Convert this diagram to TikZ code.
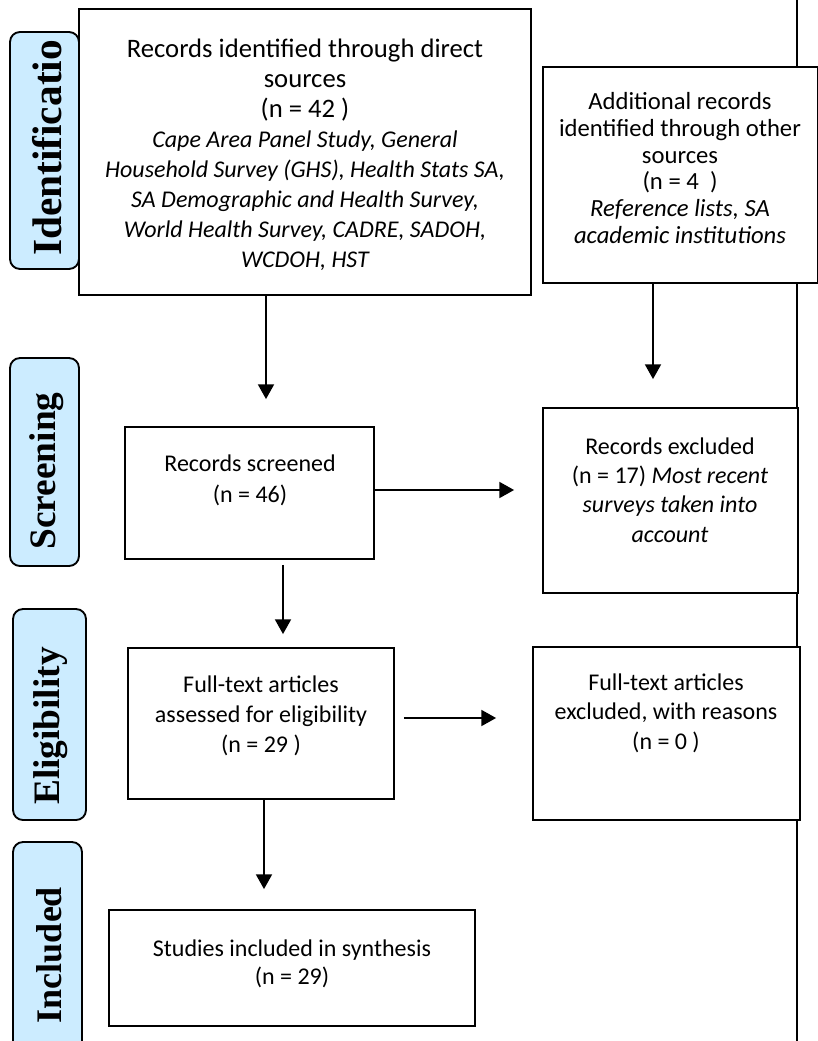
\documentclass[tikz,border=0pt]{standalone}
\usepackage{fontspec}
\setmainfont{Carlito}
\newfontfamily\labfont{Liberation Serif}
\usetikzlibrary{arrows.meta,fit}
\definecolor{labblue}{RGB}{204,236,255}
\newcommand\smit[1]{{\fontsize{18}{22.5}\selectfont\itshape #1}}
\begin{document}
\begin{tikzpicture}[x=0.75pt,y=-0.75pt,
  box/.style={draw, line width=1.4pt, fill=white, inner sep=0pt},
  lab/.style={draw, line width=1.4pt, fill=labblue, rounded corners=7.5pt, inner sep=0pt},
  labtxt/.style={rotate=90, inner sep=0pt, font=\labfont\bfseries\fontsize{#1}{#1}\selectfont},
  txt/.style={align=center, inner sep=0pt},
  arr/.style={line width=1.2pt, -{Triangle[width=12pt,length=11pt]}},
  vline/.style={line width=1.5pt}
]
\useasboundingbox (0,0) rectangle (817,1041);
\fill[white] (0,0) rectangle (817,1041);

% right vertical line
\coordinate (vt) at (797,0);
\coordinate (vb) at (797,1041);
\draw[vline] (vt) -- (vb);

% boxes
\node[box, fit={(79,9) (531,295)}] (top) {};
\node[box, fit={(543,67) (818,283)}] (r1) {};
\node[box, fit={(125,427) (374,559)}] (screen) {};
\node[box, fit={(543,408) (798,593)}] (excl) {};
\node[box, fit={(128,648) (394,799)}] (full) {};
\node[box, fit={(533,647) (800,820)}] (fex) {};
\node[box, fit={(109,910) (475,1026)}] (studies) {};

% stage labels
\node[lab, fit={(10,32) (79,269)}] (Lid) {};
\node[lab, fit={(10,358) (79,566)}] (Lsc) {};
\node[lab, fit={(13,609) (86,820)}] (Lel) {};
\node[lab, fit={(13,842) (82,1065)}] (Lin) {};
\node[labtxt=31] (Tid) at (47,148) {Identificatio};
\node[labtxt=28] (Tsc) at (47,471) {Screening};
\node[labtxt=28] (Tel) at (51,726) {Eligibility};
\node[labtxt=27] (Tin) at (49,955) {Included};

% texts
\node[txt, font=\fontsize{20}{22.5}\selectfont] (Ttop) at (305,155) {Records identified through direct\\sources\\(n = 42 )\\\smit{Cape Area Panel Study, General}\\\smit{Household Survey (GHS), Health Stats SA,}\\\smit{SA Demographic and Health Survey,}\\\smit{World Health Survey, CADRE, SADOH,}\\\smit{WCDOH, HST}};
\node[txt, font=\fontsize{18.5}{20}\selectfont] (Tr1) at (680,168) {Additional records\\identified through other\\sources\\(n = 4\ \ )\\\textit{Reference lists, SA}\\\textit{academic institutions}};
\node[txt, font=\fontsize{18}{23}\selectfont] (Tscreen) at (250,480) {Records screened\\(n = 46)};
\node[txt, font=\fontsize{18}{22}\selectfont] (Texcl) at (670,490) {Records excluded\\(n = 17) \textit{Most recent}\\\textit{surveys taken into}\\\textit{account}};
\node[txt, font=\fontsize{18}{22.5}\selectfont] (Tfull) at (261,716) {Full-text articles\\assessed for eligibility\\(n = 29 )};
\node[txt, font=\fontsize{18}{22}\selectfont] (Tfex) at (666,713) {Full-text articles\\excluded, with reasons\\(n = 0 )};
\node[txt, font=\fontsize{18}{21}\selectfont] (Tstudies) at (292,964) {Studies included in synthesis\\(n = 29)};

% arrows
\coordinate (x1) at (266,0);
\coordinate (x2) at (653,0);
\coordinate (y3) at (0,490);
\coordinate (x4) at (283,0);
\coordinate (y5) at (0,718);
\coordinate (x6) at (264,0);
\draw[arr, shorten >=20.25pt] (top.south -| x1) -- (screen.north -| x1);
\draw[arr, shorten >=21pt] (r1.south -| x2) -- (excl.north -| x2);
\draw[arr, shorten >=21pt] (screen.east |- y3) -- (excl.west |- y3);
\draw[arr, shorten <=3.75pt, shorten >=9.75pt] (screen.south -| x4) -- (full.north -| x4);
\draw[arr, shorten <=6.75pt, shorten >=27pt] (full.east |- y5) -- (fex.west |- y5);
\draw[arr, shorten >=15pt] (full.south -| x6) -- (studies.north -| x6);
\end{tikzpicture}
\end{document}
